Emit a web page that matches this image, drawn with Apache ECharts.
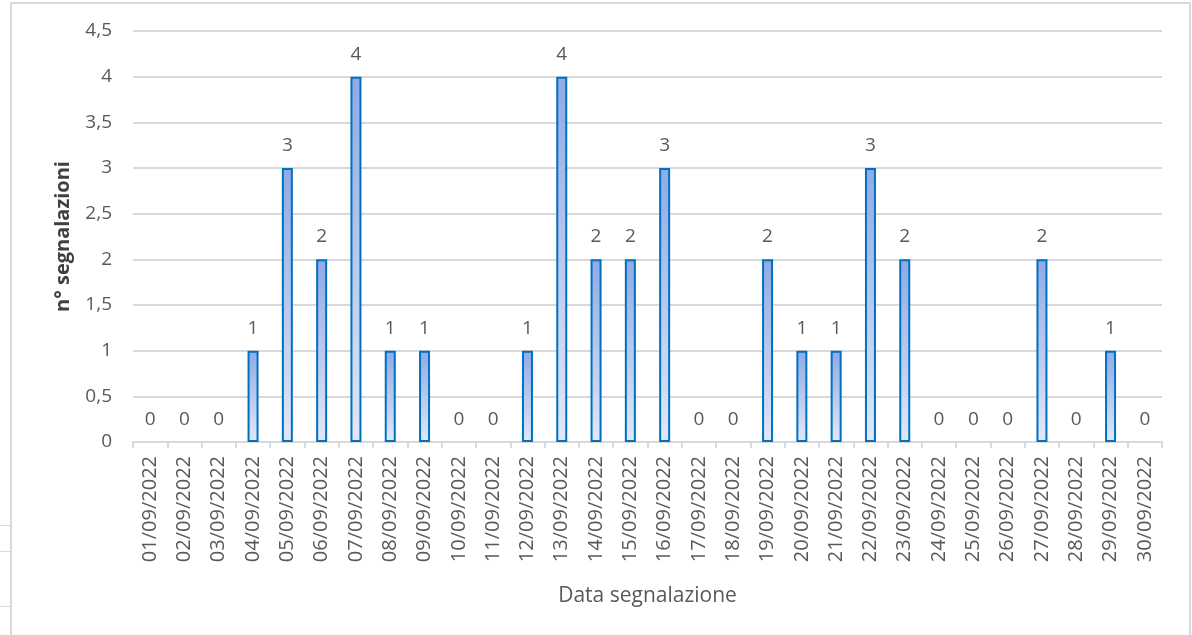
<!DOCTYPE html>
<html>
<head>
<meta charset="utf-8">
<script src="https://cdn.jsdelivr.net/npm/echarts@6/dist/echarts.min.js"></script>
<style>
  html, body { margin: 0; padding: 0; background: #fff; }
  #chart { width: 1192px; height: 635px; }
</style>
</head>
<body>
<div id="chart"></div>
<script>
// dati segnalazioni settembre 2022
var giorni = [];
for (var d = 1; d <= 30; d++) {
  giorni.push((d < 10 ? '0' + d : '' + d) + '/09/2022');
}
var segnalazioni = [0, 0, 0, 1, 3, 2, 4, 1, 1, 0, 0, 1, 4, 2, 2, 3, 0, 0, 2, 1, 1, 3, 2, 0, 0, 0, 2, 0, 1, 0];
var yMin = 0, yMax = 4.5, yStep = 0.5;

var font = '"Open Sans", "Noto Sans", sans-serif';
var grigio = '#595959';

// le barre a zero non hanno bordo visibile
var barre = segnalazioni.map(function (v) {
  return v === 0 ? { value: v, itemStyle: { borderWidth: 0 } } : v;
});

var myChart = echarts.init(document.getElementById('chart'));
var option = {
  backgroundColor: '#fff',
  animation: false,
  textStyle: { fontFamily: font },
  grid: { left: 133, right: 30, top: 31, bottom: 193 },
  graphic: [
    // cornice del grafico
    { type: 'rect', shape: { x: 11, y: 3, width: 1179, height: 640 },
      style: { fill: 'none', stroke: '#d9d9d9', lineWidth: 2 }, silent: true },
    { type: 'line', shape: { x1: 0, y1: 525.5, x2: 11, y2: 525.5 }, style: { stroke: '#d9d9d9', lineWidth: 1 } },
    { type: 'line', shape: { x1: 0, y1: 551.5, x2: 11, y2: 551.5 }, style: { stroke: '#d9d9d9', lineWidth: 1 } },
    { type: 'line', shape: { x1: 0, y1: 606.5, x2: 11, y2: 606.5 }, style: { stroke: '#d9d9d9', lineWidth: 1 } }
  ],
  xAxis: {
    type: 'category',
    data: giorni,
    name: 'Data segnalazione',
    nameLocation: 'middle',
    nameGap: 144,
    nameTextStyle: { color: grigio, fontSize: 21, fontFamily: font },
    axisLine: { lineStyle: { color: '#d9d9d9', width: 2 } },
    axisTick: { show: true, length: 6, lineStyle: { color: '#d9d9d9', width: 2 } },
    axisLabel: { rotate: 90, color: grigio, fontSize: 20, margin: 14, fontFamily: font }
  },
  yAxis: {
    type: 'value',
    min: yMin,
    max: yMax,
    interval: yStep,
    name: 'n° segnalazioni',
    nameLocation: 'middle',
    nameGap: 60,
    nameTextStyle: { color: '#404040', fontSize: 20, fontWeight: 'bold', fontFamily: font },
    axisLine: { show: false },
    axisTick: { show: false },
    splitLine: { lineStyle: { color: '#d9d9d9', width: 2 } },
    axisLabel: {
      color: grigio, fontSize: 19, margin: 21, fontFamily: font,
      formatter: function (v) { return String(v).replace('.', ','); }
    }
  },
  series: [
    {
      type: 'bar',
      data: barre,
      barWidth: 11,
      itemStyle: {
        color: new echarts.graphic.LinearGradient(0, 0, 0, 1, [
          { offset: 0, color: '#8eaae6' },
          { offset: 1, color: '#e1e8f7' }
        ]),
        borderColor: '#0070c0',
        borderWidth: 2
      },
      label: {
        show: true,
        position: 'top',
        distance: 13,
        color: grigio,
        fontSize: 19,
        fontFamily: font
      }
    }
  ]
};
myChart.setOption(option);
</script>
</body>
</html>
